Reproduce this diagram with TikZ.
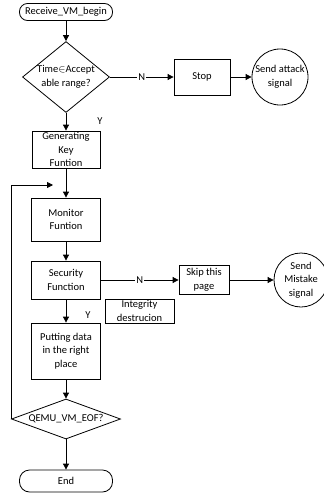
\documentclass[tikz,border=0pt]{standalone}
\usepackage{fontspec}
\setmainfont{Carlito}
\usetikzlibrary{shapes.geometric,arrows.meta}
\begin{document}
\begin{tikzpicture}[x=1pt,y=1pt,
  every node/.style={font=\fontsize{10.5}{13.5}\selectfont, inner sep=0pt, align=center},
  box/.style={draw, line width=0.8pt, rectangle},
  term/.style={draw, line width=0.8pt, rounded corners=8pt, minimum width=93pt},
  dia/.style={draw, line width=0.8pt, diamond, inner sep=0pt},
  circ/.style={draw, line width=0.8pt, circle},
  arr/.style={line width=0.8pt, -{Triangle[length=6pt,width=6pt]}},
  lbl/.style={fill=white, inner sep=1pt}]
\useasboundingbox (0,0) rectangle (324,-493);
\node[term, minimum height=17pt] (start) at (66,-12) {Receive\_VM\_begin};
\node[dia, minimum width=87pt, minimum height=71pt] (d1) at (66,-77) {};
\node (d1t) at (66,-77) {Time$\in$Accept\\able range?};
\node[box, minimum width=56pt, minimum height=36pt] (stop) at (202,-77) {Stop};
\node[circ, minimum size=56pt] (sig1) at (280,-77) {Send attack\\signal};
\node[box, minimum width=68pt, minimum height=37pt] (gen) at (66,-149.5) {Generating\\Key\\Funtion};
\node[box, minimum width=69pt, minimum height=43pt] (mon) at (66,-219.5) {Monitor\\Funtion};
\node[box, minimum width=69pt, minimum height=38pt] (sec) at (66,-280) {Security\\Function};
\node[box, minimum width=50pt, minimum height=29pt] (skip) at (204,-280) {Skip this\\page};
\node[circ, minimum size=54pt] (sig2) at (301,-280) {Send\\Mistake\\signal};
\node[box, minimum width=69pt, minimum height=24pt] (integ) at (139.5,-311) {Integrity\\destrucion};
\node[box, minimum width=69pt, minimum height=56pt] (put) at (66,-351) {Putting data\\in the right\\place};
\node[dia, minimum width=109pt, minimum height=40pt] (d2) at (66,-419) {};
\node (d2t) at (66,-419) {QEMU\_VM\_EOF?};
\node[term, minimum height=22pt, rounded corners=10pt] (end) at (66,-481) {End};
\coordinate (loopend) at (53,-185);
\draw[arr] (start) -- (d1);
\draw[arr] (d1.east) -- node[lbl] (n1) {N} (stop.west);
\draw[arr] (stop) -- (sig1);
\draw[arr] (d1.south) -- (gen.north);
\node (y1) at (100,-121) {Y};
\draw[arr] (gen) -- (mon);
\draw[arr] (mon) -- (sec);
\draw[arr] (sec.east) -- node[lbl] (n2) {N} (skip.west);
\draw[arr] (skip) -- (sig2);
\draw[arr] (sec) -- (put);
\node (y2) at (88,-315) {Y};
\draw[arr] (put) -- (d2.north);
\draw[arr] (d2.south) -- (end);
\draw[arr] (d2.west) |- (loopend);
\end{tikzpicture}
\end{document}
